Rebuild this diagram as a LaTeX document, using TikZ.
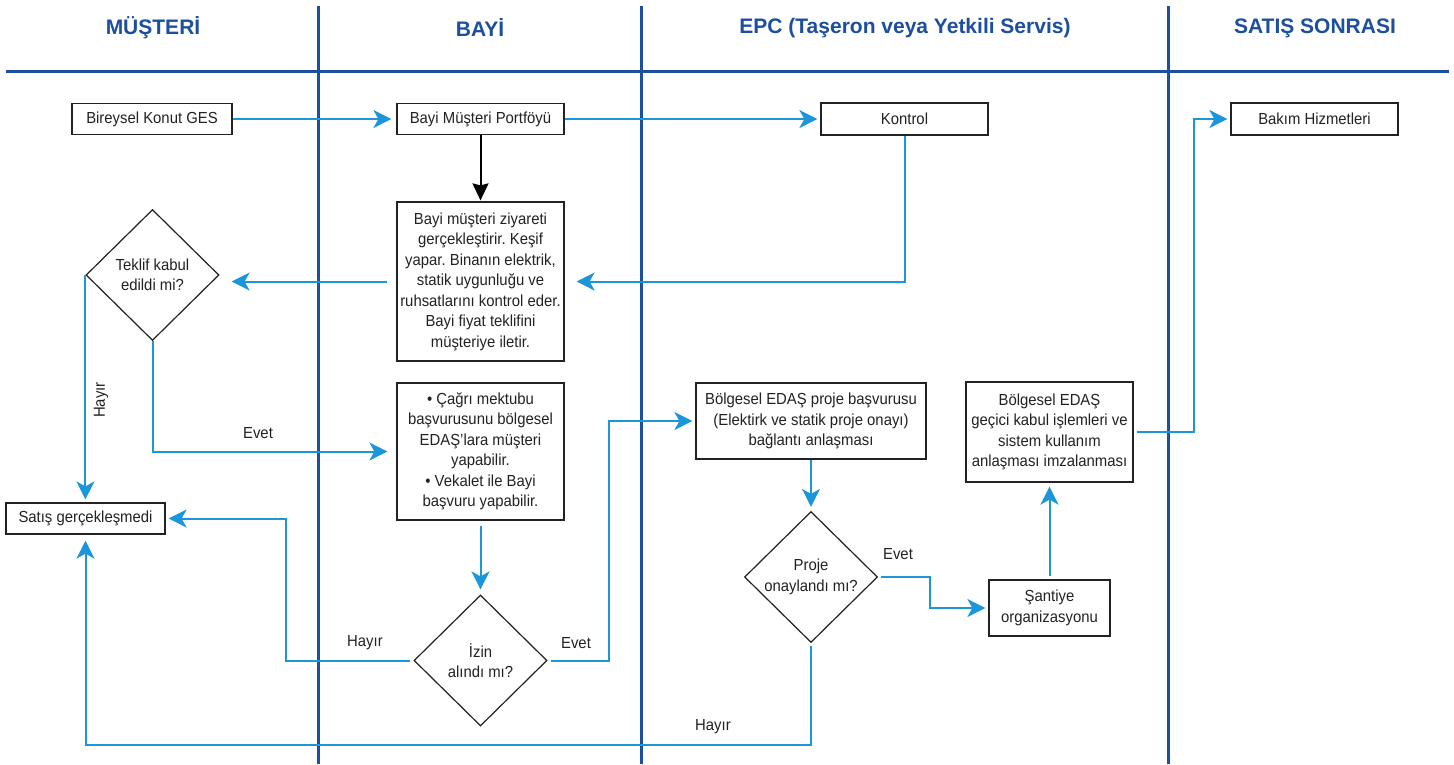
\documentclass[tikz,border=0pt]{standalone}
\usepackage{fontspec}
\setmainfont{Liberation Sans}
\newfontfamily\bodyfam[FakeStretch=0.93]{Liberation Sans}
\usetikzlibrary{shapes.geometric,arrows.meta,calc}
\definecolor{lane}{HTML}{1C4F9E}
\definecolor{conn}{HTML}{1B96DA}
\definecolor{ink}{HTML}{222222}
\begin{document}
\frenchspacing
\begin{tikzpicture}[x=1pt,y=-1pt,
  bodyf/.style={font=\bodyfam\fontsize{16}{20.5}\selectfont},
  box/.style={draw=ink, line width=1.2pt, text=ink, bodyf, inner sep=1pt, align=center},
  dia/.style={diamond, draw=ink, line width=1.2pt, minimum width=133pt, minimum height=131pt, inner sep=0pt, align=center, text=ink, bodyf},
  lbl/.style={text=ink, bodyf, inner sep=0pt},
  head/.style={text=lane, font=\bfseries\fontsize{21}{25}\selectfont},
  laneline/.style={draw=lane, line width=3pt},
  arr/.style={draw=conn, line width=2pt, -{Stealth[length=18pt,width=18pt,inset=5pt]}},
  blk/.style={draw=black, line width=2pt, -{Stealth[length=17pt,width=16pt,inset=2pt]}}
]
\useasboundingbox[fill=white] (0,0) rectangle (1454,764);

% lanes
\draw[laneline] (6,71) -- (1449,71);
\draw[laneline] (318,6) -- (318,764);
\draw[laneline] (641,6) -- (641,764);
\draw[laneline] (1168,6) -- (1168,764);

\node[head] (h1) at (153,28) {MÜŞTERİ};
\node[head] (h2) at (480,28) {BAYİ};
\node[head] (h3) at (905,28) {EPC (Taşeron veya Yetkili Servis)};
\node[head] (h4) at (1315,28) {SATIŞ SONRASI};

% nodes
\node[box, minimum width=160pt, minimum height=31pt] (b1) at (152,119) {Bireysel Konut GES};
\node[box, minimum width=167pt, minimum height=31pt] (b2) at (480.5,119) {Bayi Müşteri Portföyü};
\node[box, minimum width=167pt, minimum height=32pt] (kontrol) at (904.5,119) {Kontrol};
\node[box, minimum width=167pt, minimum height=32pt] (bakim) at (1314.5,119) {Bakım Hizmetleri};
\node[box, minimum width=167pt, minimum height=159pt] (box3) at (480.5,281.5)
  {Bayi müşteri ziyareti\\gerçekleştirir. Keşif\\yapar. Binanın elektrik,\\statik uygunluğu ve\\ruhsatlarını kontrol eder.\\Bayi fiyat teklifini\\müşteriye iletir.};
\node[dia] (teklif) at (152.5,275) {Teklif kabul\\edildi mi?};
\node[box, minimum width=159pt, minimum height=31pt] (satis) at (85.5,518.5) {Satış gerçekleşmedi};
\node[box, minimum width=167pt, minimum height=137pt] (box4) at (480.5,451.5)
  {• Çağrı mektubu\\başvurusunu bölgesel\\EDAŞ’lara müşteri\\yapabilir.\\• Vekalet ile Bayi\\başvuru yapabilir.};
\node[dia] (izin) at (480.5,660.5) {İzin\\alındı mı?};
\node[box, minimum width=230pt, minimum height=76pt] (bolg1) at (811,421)
  {Bölgesel EDAŞ proje başvurusu\\(Elektirk ve statik proje onayı)\\bağlantı anlaşması};
\node[dia] (proje) at (811,577) {Proje\\onaylandı mı?};
\node[box, minimum width=121pt, minimum height=56pt] (santiye) at (1049.5,608)
  {Şantiye\\organizasyonu};
\node[box, minimum width=167pt, minimum height=100pt] (bolg2) at (1049.5,432)
  {Bölgesel EDAŞ\\geçici kabul işlemleri ve\\sistem kullanım\\anlaşması imzalanması};

% helper coordinates
\coordinate (c1) at ([xshift=120pt]satis.east);
\coordinate (c2) at ([xshift=-86pt]bolg1.west);
\coordinate (c3) at ([xshift=52pt]proje.east);
\coordinate (base) at (0,745);
\coordinate (c5) at ([xshift=60pt]bolg2.east);

% connectors
\draw[arr, shorten >=5pt] (b1.east) -- (b2.west);
\draw[arr, shorten >=3pt] (b2.east) -- (kontrol.west);
\draw[blk, shorten >=1pt] (b2.south) -- (box3.north);
\draw[arr, shorten >=12pt] (kontrol.south) |- (box3.east);
\draw[arr, shorten <=9pt, shorten >=12pt] (box3.west) -- (box3.west -| teklif.east);
\draw[arr, shorten >=3pt] (teklif.west) -- (teklif.west |- satis.north);
\draw[arr, shorten >=9pt] (teklif.south) |- (box4.west);
\draw[arr, shorten <=5pt, shorten >=5pt] (box4.south) -- (izin.north);
\draw[arr, shorten <=3pt, shorten >=3pt] (izin.west) -| (c1) -- (satis.east);
\draw[arr, shorten <=3pt, shorten >=3pt] (izin.east) -| (c2) -- (bolg1.west);
\draw[arr, shorten >=4pt] (bolg1.south) -- (proje.north);
\draw[arr, shorten <=3pt, shorten >=3pt] (proje.east) -- (c3) |- (santiye.west);
\draw[arr, shorten <=3pt, shorten >=4pt] (santiye.north) -- (bolg2.south);
\draw[arr, shorten <=3pt, shorten >=6pt] (proje.south) -- (proje.south |- base) -| (satis.south);
\draw[arr, shorten <=3pt, shorten >=3pt] (bolg2.east) -| (c5) |- (bakim.west);

% labels
\node[lbl, rotate=90] (l1) at (101,400) {Hayır};
\node[lbl] (l2) at (258,433) {Evet};
\node[lbl] (l3) at (365,643) {Hayır};
\node[lbl] (l4) at (576,643) {Evet};
\node[lbl] (l5) at (898,554) {Evet};
\node[lbl] (l6) at (713,727) {Hayır};
\end{tikzpicture}
\end{document}
